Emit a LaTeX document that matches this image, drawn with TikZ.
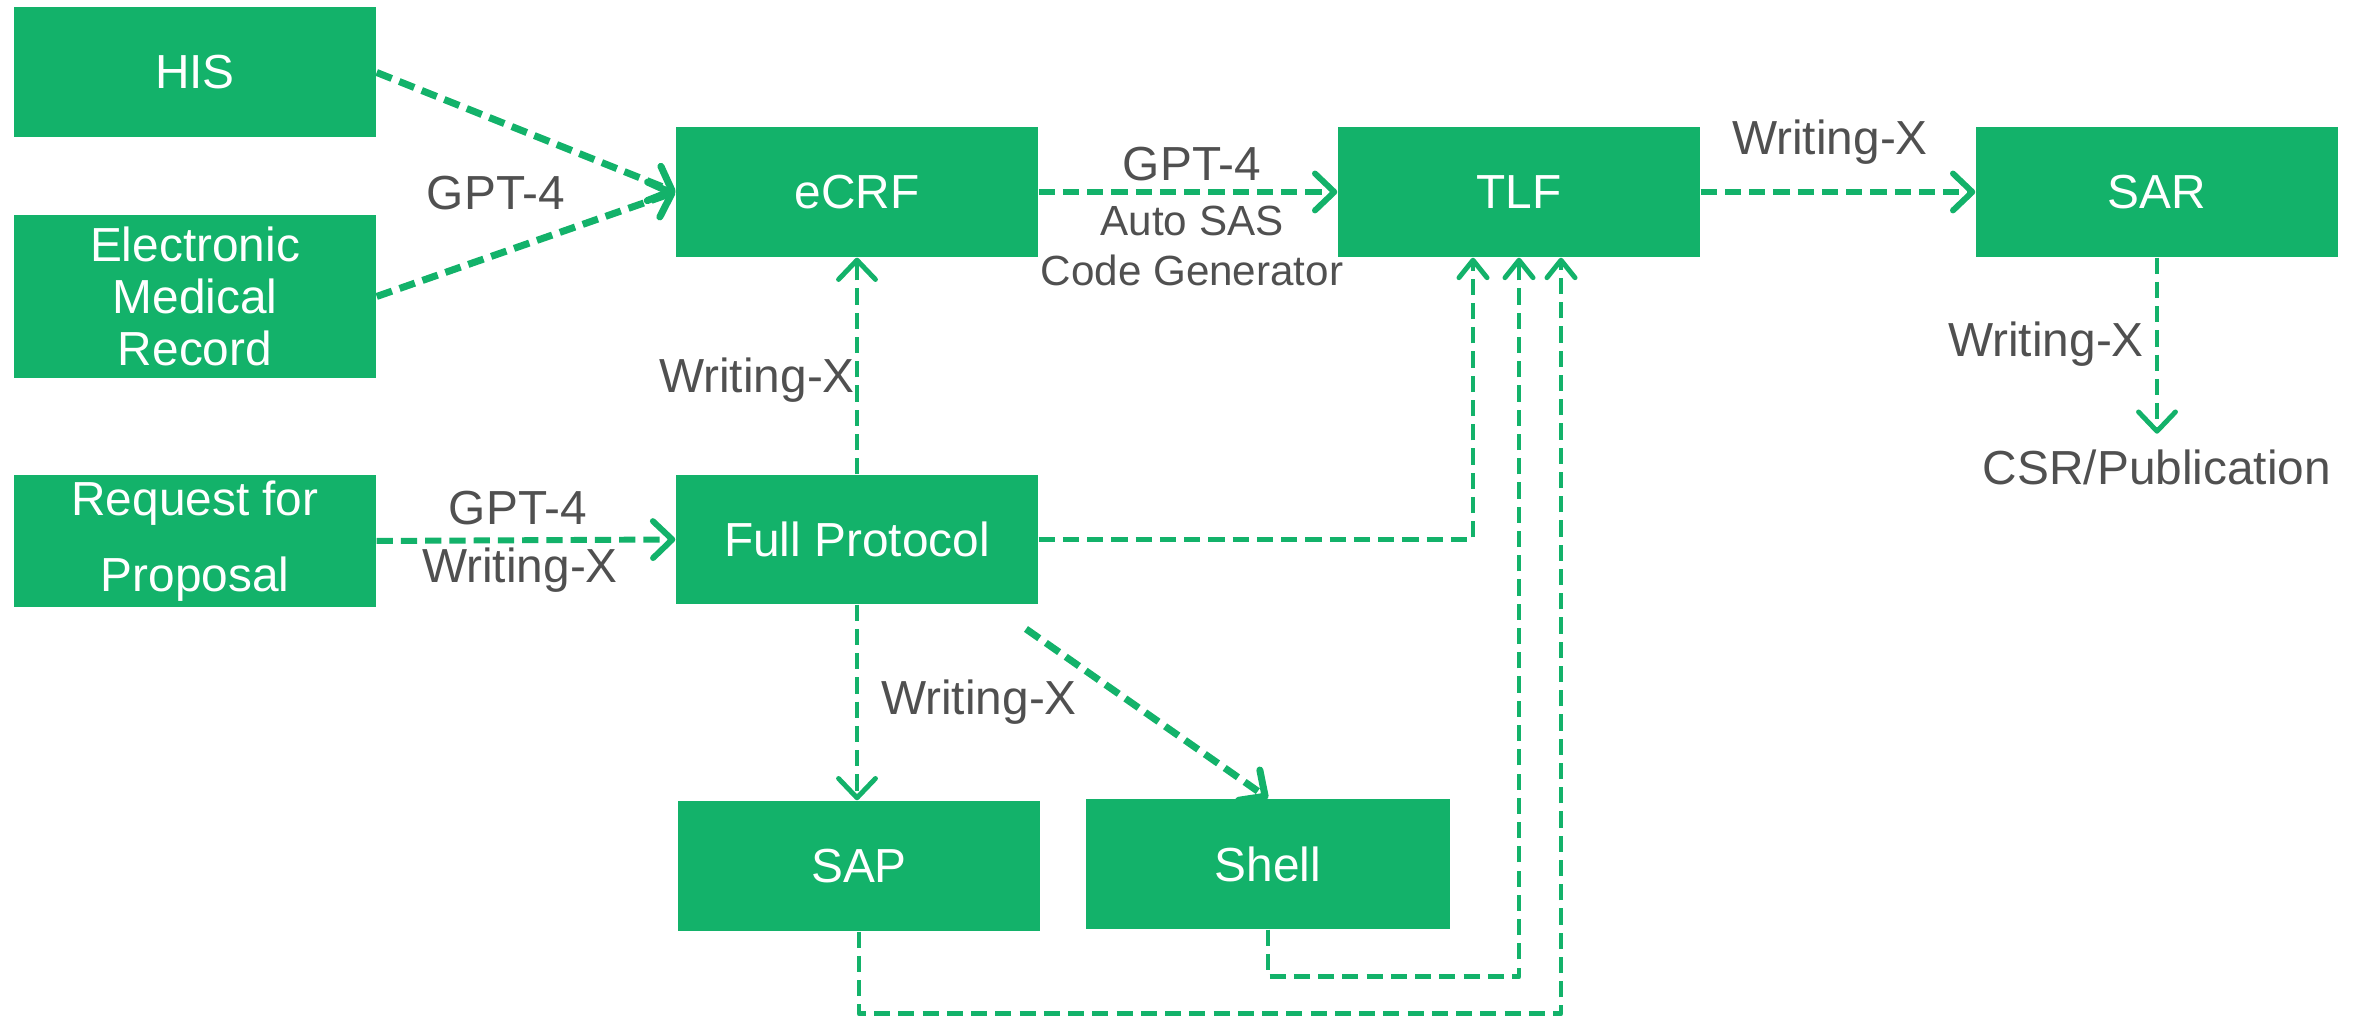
\documentclass[tikz,border=0pt]{standalone}
\usepackage{fontspec}
\setmainfont{Liberation Sans}
\usepackage{tikz}
\usetikzlibrary{arrows.meta}
\definecolor{boxgreen}{RGB}{19,178,106}
\definecolor{labelgray}{RGB}{80,80,80}

\begin{document}
\begin{tikzpicture}[line join=round,x=1.0cm,y=1.0cm,
    >={Straight Barb[length=5.5pt,width=10.5pt,round]},
    box/.style={fill=boxgreen,text=white,minimum width=3.62cm,minimum height=1.30cm,inner sep=0pt,align=center,font=\fontsize{13.6}{14.8}\selectfont},
    lbl/.style={text=labelgray,inner sep=0pt,align=center,font=\fontsize{13.6}{14.8}\selectfont},
    flow/.style={->,draw=boxgreen,line width=1.7pt,line cap=butt,dash pattern=on 4.6pt off 2.3pt},
    feed/.style={flow,line width=1.4pt,-{Straight Barb[length=5pt,width=8pt,round]}}]
        \useasboundingbox (0,0) rectangle (23.54,10.17);
        \node[box] (his) at (1.95,9.445) {HIS};
        \node[box,minimum height=1.63cm] (emr) at (1.95,7.205) {Electronic\\Medical\\Record};
        \node[box,minimum height=1.32cm] (rfp) at (1.95,4.76) {Request for\\[7pt]Proposal};
        \node[box] (ecrf) at (8.57,8.25) {eCRF};
        \node[box] (tlf) at (15.19,8.25) {TLF};
        \node[box] (sar) at (21.57,8.25) {SAR};
        \node[box,minimum height=1.29cm] (fp) at (8.57,4.775) {Full Protocol};
        \node[box] (sap) at (8.59,1.51) {SAP};
        \node[box,minimum width=3.64cm] (shell) at (12.68,1.53) {Shell};
        \node[lbl,inner sep=0.15cm] (csr) at (21.57,5.50) {CSR/Publication};
        \coordinate (shellstart) at (10.26,3.88);

        \node[lbl] (gptin) at (4.96,8.24) {GPT-4};
        \node[lbl] (wxup) at (7.57,6.37) {Writing-X};
        \node[lbl] (gptsas) at (11.92,8.53) {GPT-4};
        \node[lbl,font=\fontsize{12}{14.5}\selectfont] (sasgen) at (11.92,7.71) {Auto SAS\\Code Generator};
        \node[lbl] (wxsar) at (18.30,8.75) {Writing-X};
        \node[lbl] (wxcsr) at (20.46,6.73) {Writing-X};
        \node[lbl] (gptfp) at (5.18,5.09) {GPT-4};
        \node[lbl] (wxfp) at (5.20,4.47) {Writing-X};
        \node[lbl] (wxsap) at (9.79,3.15) {Writing-X};

        \draw[flow,line width=2pt] (his.east) -- (ecrf.west);
        \draw[flow,line width=2pt] (emr.east) -- (ecrf.west);
        \draw[flow] (ecrf.east) -- (tlf.west);
        \draw[flow] (tlf.east) -- (sar.west);
        \draw[flow,line width=1.4pt] (sar.south) -- (csr.north);
        \draw[flow] (rfp.east) -- (fp.west);
        \draw[flow,line width=1.4pt] (fp.north) -- (ecrf.south);
        \draw[flow,line width=1.4pt] (fp.south) -- (fp.south |- sap.north);
        \draw[flow,line width=2pt] (shellstart) -- (shell.north);
        \draw[feed] (fp.east) -| ([xshift=-0.46cm]tlf.south);
        \draw[feed] (shell.south) -- ++(0,-0.47) -| (tlf.south);
        \draw[feed] (sap.south) -- ++(0,-0.82) -| ([xshift=0.42cm]tlf.south);
\end{tikzpicture}
\end{document}
